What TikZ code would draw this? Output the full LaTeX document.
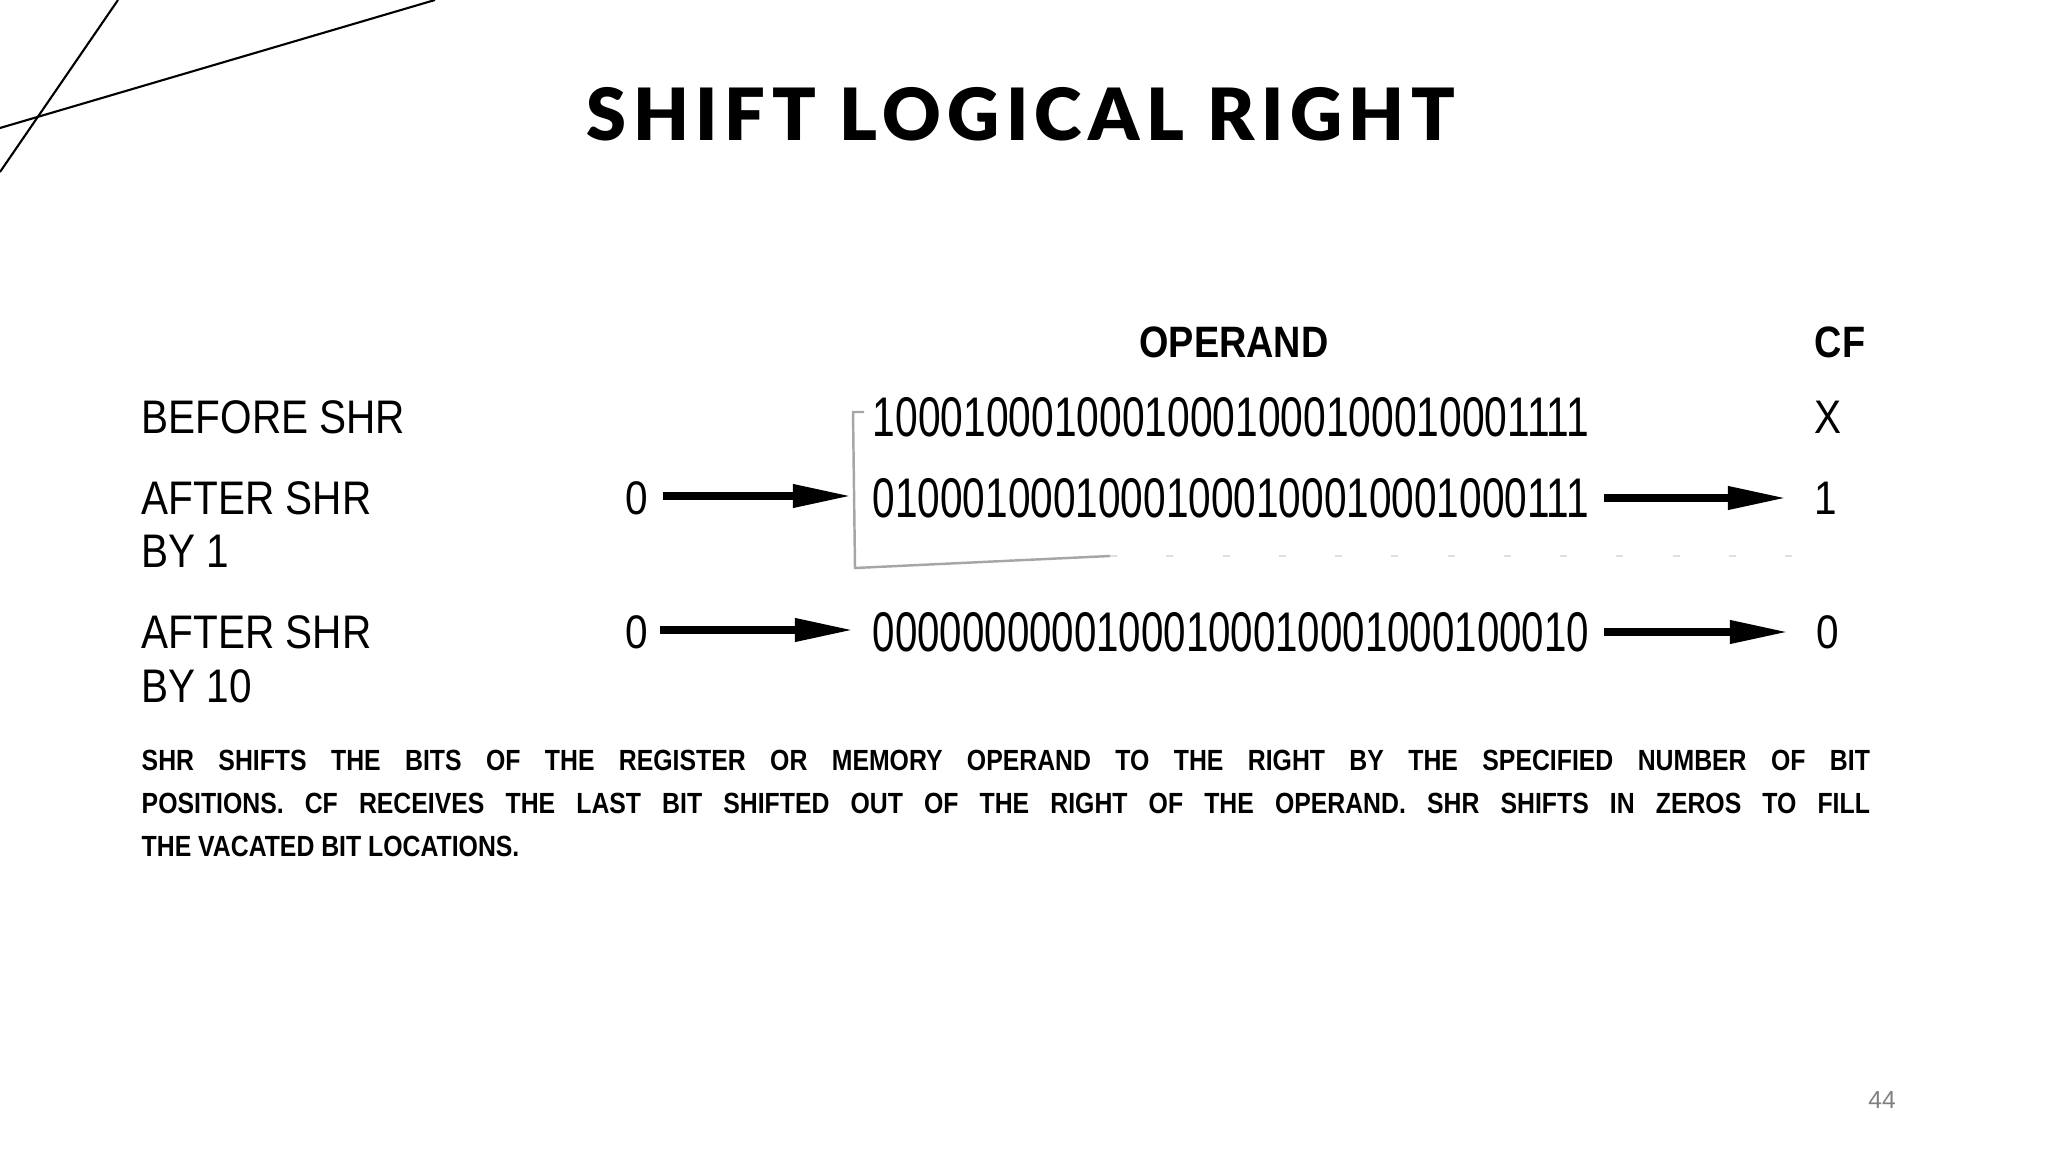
\documentclass[tikz,border=0pt]{standalone}
\usepackage{fontspec}
\setmainfont{Liberation Sans}
\newfontfamily\titlefont[LetterSpace=9]{Lato Black}
\usetikzlibrary{arrows.meta}
\tikzset{
  lbl/.style={anchor=west,inner sep=0pt,font=\fontsize{13.4}{14}\selectfont},
  bits/.style={anchor=west,inner sep=0pt},
  shiftarrow/.style={line width=2pt,-{Triangle[length=0.58cm,width=0.22cm]}},
  para/.style={anchor=west,inner sep=0pt,font=\bfseries\fontsize{8.3}{9}\selectfont},
}
\newcommand{\lbltxt}[1]{\scalebox{0.86}[1]{#1}}
\newcommand{\bitstr}[1]{\resizebox{7.16cm}{0.39cm}{#1}}
\begin{document}
\begin{tikzpicture}[x=0.01cm,y=-0.01cm]
\useasboundingbox (0,0) rectangle (2048,1152);
% decorative lines
\draw[line width=0.6pt] (0,128) -- (435,0);
\draw[line width=0.6pt] (118,0) -- (0,172);
% title
\node (title) at (1021,114) {\titlefont\fontsize{20.5}{22}\selectfont SHIFT LOGICAL RIGHT};
% headers
\node[font=\bfseries\fontsize{12.5}{13}\selectfont] (op) at (1234,342) {\lbltxt{OPERAND}};
\node[font=\bfseries\fontsize{12.5}{13}\selectfont] (cf) at (1840,342) {\lbltxt{CF}};
% row labels
\node[lbl] (l1) at (141,417) {\lbltxt{BEFORE SHR}};
\node[lbl] (l2) at (141,498) {\lbltxt{AFTER SHR}};
\node[lbl] (l2b) at (141,551) {\lbltxt{BY 1}};
\node[lbl] (l3) at (141,632) {\lbltxt{AFTER SHR}};
\node[lbl] (l3b) at (141,686) {\lbltxt{BY 10}};
% bit strings
\node[bits] (b1) at (872,417) {\bitstr{10001000100010001000100010001111}};
\node[bits] (b2) at (872,498) {\bitstr{01000100010001000100010001000111}};
\node[bits] (b3) at (872,632) {\bitstr{00000000001000100010001000100010}};
% zeros in
\node[lbl,anchor=center] (z2) at (637,498) {\lbltxt{0}};
\node[lbl,anchor=center] (z3) at (637,632) {\lbltxt{0}};
% CF values
\node[lbl,anchor=center] (c1) at (1828,417) {\lbltxt{X}};
\node[lbl,anchor=center] (c2) at (1826,498) {\lbltxt{1}};
\node[lbl,anchor=center] (c3) at (1828,632) {\lbltxt{0}};
% arrows
\coordinate (a2s) at (663,496); \coordinate (a2e) at (851,496);
\coordinate (a3s) at (660,630); \coordinate (a3e) at (853,630);
\draw[shiftarrow] (a2s) -- (a2e);
\draw[shiftarrow] (a3s) -- (a3e);
\coordinate (r2s) at (1604,498); \coordinate (r2e) at (1786,498);
\coordinate (r3s) at (1604,632); \coordinate (r3e) at (1788,632);
\draw[shiftarrow] (r2s) -- (r2e);
\draw[shiftarrow] (r3s) -- (r3e);
% bracket
\coordinate (k1) at (864,412); \coordinate (k2) at (853,412);
\coordinate (k3) at (855,568); \coordinate (k4) at (1110,556);
\draw[gray!70,line width=0.7pt] (k1) -- (k2) -- (k3) -- (k4);
\coordinate (k5) at (1840,556);
\draw[gray!25,line width=0.5pt,dash pattern=on 2pt off 14pt] (k4) -- (k5);
% paragraph
\node[para] (p1) at (141,760) {\scalebox{0.85}[1]{\makebox[20.32cm][s]{SHR SHIFTS THE BITS OF THE REGISTER OR MEMORY OPERAND TO THE RIGHT BY THE SPECIFIED NUMBER OF BIT}}};
\node[para] (p2) at (141,803) {\scalebox{0.85}[1]{\makebox[20.32cm][s]{POSITIONS. CF RECEIVES THE LAST BIT SHIFTED OUT OF THE RIGHT OF THE OPERAND. SHR SHIFTS IN ZEROS TO FILL}}};
\node[para] (p3) at (141,846) {\scalebox{0.85}[1]{THE VACATED BIT LOCATIONS.}};
% page number
\node[text=gray,font=\fontsize{7}{8}\selectfont] (pg) at (1882,1100) {44};
\end{tikzpicture}
\end{document}
